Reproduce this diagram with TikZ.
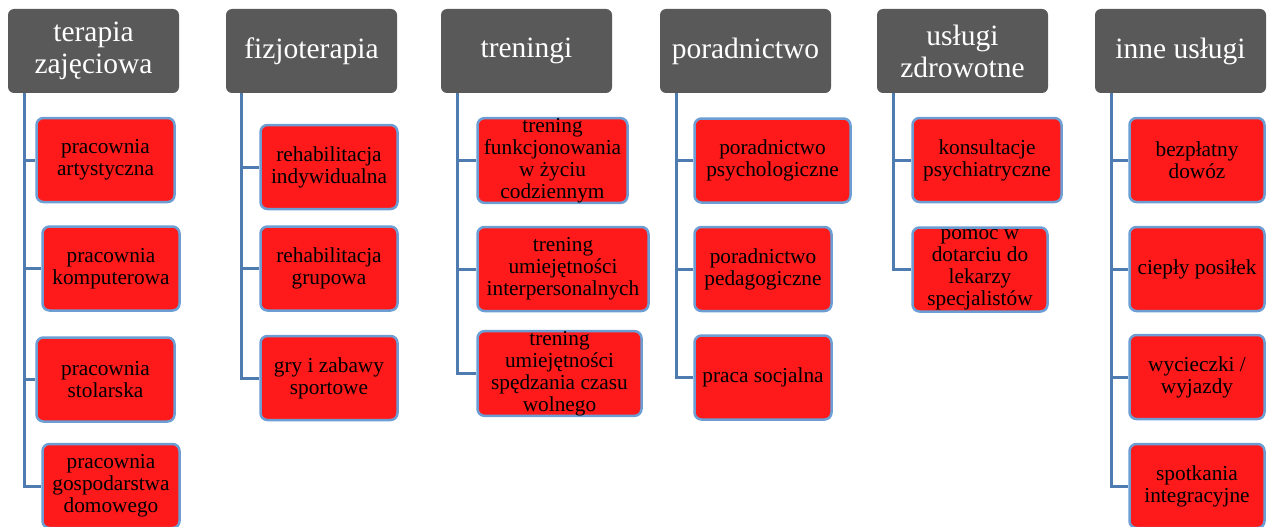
\documentclass[tikz,border=0pt]{standalone}
\usepackage{fontspec}
\setmainfont{Liberation Serif}
\definecolor{hdrgray}{RGB}{89,89,89}
\definecolor{boxred}{RGB}{254,26,26}
\definecolor{boxblue}{RGB}{108,158,212}
\definecolor{connblue}{RGB}{79,124,176}
\begin{document}
\begin{tikzpicture}[x=1pt,y=-1pt,
  hdr/.style={fill=hdrgray, rounded corners=6pt, text=white, align=center,
    minimum width=171pt, minimum height=84pt, inner sep=0pt,
    font=\fontsize{29.5}{32}\selectfont},
  item/.style={fill=boxred, draw=boxblue, line width=2.5pt, rounded corners=7pt,
    align=center, inner sep=0pt, text=black, minimum height=84pt,
    font=\fontsize{21.3}{22}\selectfont},
  conn/.style={draw=connblue, line width=3pt}]
\useasboundingbox (0,0) rectangle (1267,527);

% headers
\node[hdr] (h1) at (93.5,51) {terapia\\zajęciowa};
\node[hdr] (h2) at (311.5,51) {fizjoterapia};
\node[hdr] (h3) at (526.5,51) {treningi};
\node[hdr] (h4) at (745.5,51) {poradnictwo};
\node[hdr] (h5) at (962.5,51) {usługi\\zdrowotne};
\node[hdr] (h6) at (1180.5,51) {inne usługi};

% column 1
\node[item, minimum width=138pt] (a1) at (105.5,160) {pracownia\\artystyczna};
\node[item, minimum width=137pt] (a2) at (111,268.5) {pracownia\\komputerowa};
\node[item, minimum width=138pt] (a3) at (105.5,379.5) {pracownia\\stolarska};
\node[item, minimum width=137pt] (a4) at (111,486) {pracownia\\gospodarstwa\\domowego};

% column 2
\node[item, minimum width=137pt] (b1) at (329,167) {rehabilitacja\\indywidualna};
\node[item, minimum width=137pt] (b2) at (329,268.5) {rehabilitacja\\grupowa};
\node[item, minimum width=137pt] (b3) at (329,378) {gry i zabawy\\sportowe};

% column 3
\node[item, minimum width=150pt] (c1) at (552.5,160.5) {trening\\funkcjonowania\\w życiu\\codziennym};
\node[item, minimum width=171pt] (c2) at (563,269) {trening\\umiejętności\\interpersonalnych};
\node[item, minimum width=164pt] (c3) at (559.5,373.5) {trening\\umiejętności\\spędzania czasu\\wolnego};

% column 4
\node[item, minimum width=156pt] (d1) at (772.5,160.5) {poradnictwo\\psychologiczne};
\node[item, minimum width=137pt] (d2) at (763,269) {poradnictwo\\pedagogiczne};
\node[item, minimum width=137pt] (d3) at (763,377.5) {praca socjalna};

% column 5
\node[item, minimum width=149pt] (e1) at (987,160) {konsultacje\\psychiatryczne};
\node[item, minimum width=135pt] (e2) at (980,269.5) {pomoc w\\dotarciu do\\lekarzy\\specjalistów};

% column 6
\node[item, minimum width=135pt] (f1) at (1197,160) {bezpłatny\\dowóz};
\node[item, minimum width=135pt] (f2) at (1197,269) {ciepły posiłek};
\node[item, minimum width=135pt] (f3) at (1197,377) {wycieczki /\\wyjazdy};
\node[item, minimum width=135pt] (f4) at (1197,486) {spotkania\\integracyjne};

% trunks
\coordinate (t1) at (24,93);
\coordinate (t2) at (241,93);
\coordinate (t3) at (457,93);
\coordinate (t4) at (676,93);
\coordinate (t5) at (893,93);
\coordinate (t6) at (1111,93);

\draw[conn] (t1) |- (a4.west);
\draw[conn] (t1 |- a1.west) -- (a1.west);
\draw[conn] (t1 |- a2.west) -- (a2.west);
\draw[conn] (t1 |- a3.west) -- (a3.west);

\draw[conn] (t2) |- (b3.west);
\draw[conn] (t2 |- b1.west) -- (b1.west);
\draw[conn] (t2 |- b2.west) -- (b2.west);

\draw[conn] (t3) |- (c3.west);
\draw[conn] (t3 |- c1.west) -- (c1.west);
\draw[conn] (t3 |- c2.west) -- (c2.west);

\draw[conn] (t4) |- (d3.west);
\draw[conn] (t4 |- d1.west) -- (d1.west);
\draw[conn] (t4 |- d2.west) -- (d2.west);

\draw[conn] (t5) |- (e2.west);
\draw[conn] (t5 |- e1.west) -- (e1.west);

\draw[conn] (t6) |- (f4.west);
\draw[conn] (t6 |- f1.west) -- (f1.west);
\draw[conn] (t6 |- f2.west) -- (f2.west);
\draw[conn] (t6 |- f3.west) -- (f3.west);
\end{tikzpicture}
\end{document}
